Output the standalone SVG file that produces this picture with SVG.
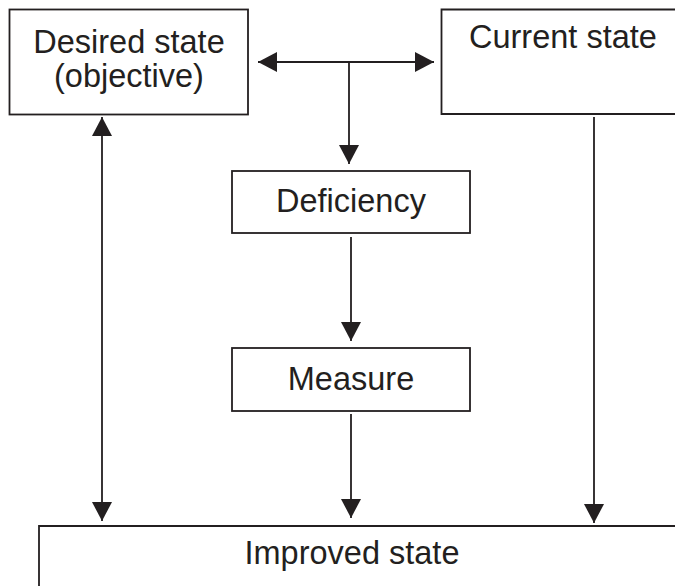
<svg xmlns="http://www.w3.org/2000/svg" width="675" height="586" viewBox="0 0 675 586">
  <style>
    .box { fill: #ffffff; stroke: #231f20; stroke-width: 1.8; }
    .edge { fill: none; stroke: #231f20; stroke-width: 1.8; }
    .lbl { font-family: "Liberation Sans", Arial, Helvetica, sans-serif; font-size: 32.5px; fill: #231f20; }
    .mid { text-anchor: middle; }
  </style>
  <defs>
    <marker id="arrow" viewBox="0 0 19 20" refX="19" refY="10" markerWidth="19" markerHeight="20" markerUnits="userSpaceOnUse" orient="auto-start-reverse">
      <path d="M0,0 L19,10 L0,20 z" fill="#231f20"/>
    </marker>
  </defs>
  <rect width="675" height="586" fill="#ffffff"/>

  <g id="desired">
    <rect class="box" x="9.5" y="9.5" width="238.5" height="105"/>
    <text class="lbl mid" x="129" y="53">Desired state</text>
    <text class="lbl mid" x="129" y="87">(objective)</text>
  </g>

  <g id="current">
    <path class="box" d="M676,9.5 H441.5 V114 H676"/>
    <text class="lbl" x="469" y="48">Current state</text>
  </g>

  <g id="deficiency">
    <rect class="box" x="232" y="171" width="238" height="62"/>
    <text class="lbl mid" x="351" y="212">Deficiency</text>
  </g>

  <g id="measure">
    <rect class="box" x="232" y="348" width="238" height="63"/>
    <text class="lbl mid" x="351" y="390">Measure</text>
  </g>

  <g id="improved">
    <path class="box" d="M676,526 H39 V587"/>
    <text class="lbl mid" x="352" y="564">Improved state</text>
  </g>

  <g id="connectors">
    <line class="edge" x1="258" y1="62" x2="434" y2="62" marker-start="url(#arrow)" marker-end="url(#arrow)"/>
    <line class="edge" x1="349" y1="62" x2="349" y2="164" marker-end="url(#arrow)"/>
    <line class="edge" x1="351" y1="237" x2="351" y2="341" marker-end="url(#arrow)"/>
    <line class="edge" x1="351" y1="414" x2="351" y2="518" marker-end="url(#arrow)"/>
    <line class="edge" x1="594" y1="117" x2="594" y2="523" marker-end="url(#arrow)"/>
    <line class="edge" x1="102" y1="117" x2="102" y2="521" marker-start="url(#arrow)" marker-end="url(#arrow)"/>
  </g>
</svg>
